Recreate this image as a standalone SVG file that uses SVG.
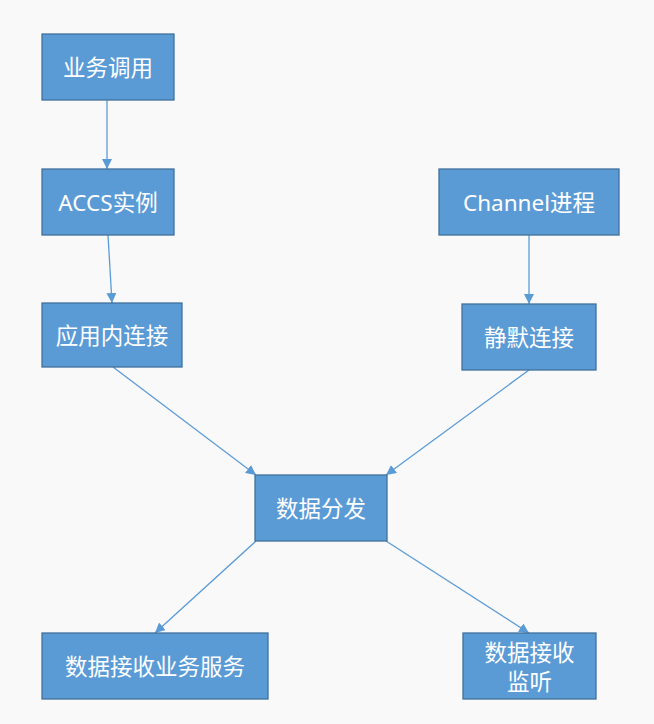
<svg xmlns="http://www.w3.org/2000/svg" width="654" height="724" viewBox="0 0 654 724">
<style>
.box{fill:#5B9BD5;stroke:#41719C;stroke-width:1.3}
.t{fill:#FFFFFF;font-family:"Noto Sans","Noto Sans CJK SC",sans-serif;font-size:22.5px;text-anchor:middle;dominant-baseline:central}
.c{stroke:#5B9BD5;stroke-width:1.3;fill:none;marker-end:url(#ah)}
</style>
<defs>
<marker id="ah" viewBox="0 0 10 10" refX="10" refY="5" markerWidth="10" markerHeight="10" markerUnits="userSpaceOnUse" orient="auto">
<path d="M0,0 L10,5 L0,10 z" fill="#5B9BD5"/>
</marker>
</defs>
<rect x="0" y="0" width="654" height="724" fill="#F9F9F9"/>
<g id="connectors">
<line class="c" x1="107" y1="100" x2="107" y2="169"/>
<line class="c" x1="108" y1="235" x2="112" y2="303"/>
<line class="c" x1="529" y1="235" x2="529" y2="304"/>
<line class="c" x1="113" y1="367" x2="256" y2="475"/>
<line class="c" x1="529" y1="370" x2="386" y2="475"/>
<line class="c" x1="256" y1="541" x2="155" y2="633"/>
<line class="c" x1="386" y1="541" x2="529" y2="633"/>
</g>
<g id="n1"><rect class="box" x="42" y="34" width="132" height="66"/><text class="t" x="108" y="67">业务调用</text></g>
<g id="n2"><rect class="box" x="42" y="169" width="132" height="66"/><text class="t" x="108" y="202">ACCS实例</text></g>
<g id="n3"><rect class="box" x="42" y="303" width="140" height="64"/><text class="t" x="112" y="335">应用内连接</text></g>
<g id="n4"><rect class="box" x="439" y="169" width="180" height="66"/><text class="t" x="529" y="202">Channel进程</text></g>
<g id="n5"><rect class="box" x="462" y="304" width="134" height="66"/><text class="t" x="529" y="337">静默连接</text></g>
<g id="n6"><rect class="box" x="255" y="475" width="132" height="66"/><text class="t" x="321" y="508">数据分发</text></g>
<g id="n7"><rect class="box" x="42" y="633" width="226" height="66"/><text class="t" x="155" y="666">数据接收业务服务</text></g>
<g id="n8"><rect class="box" x="463" y="633" width="133" height="66"/><text class="t" x="529.5" y="652">数据接收</text><text class="t" x="529.5" y="681">监听</text></g>
</svg>
